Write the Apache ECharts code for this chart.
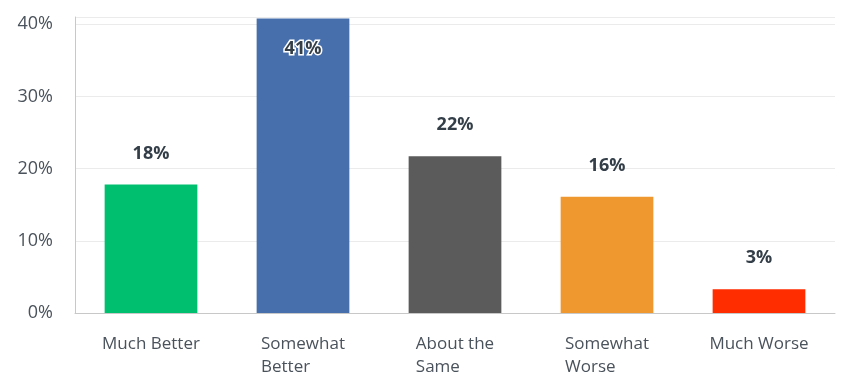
<!DOCTYPE html>
<html><head><meta charset="utf-8">
<script src="https://cdn.jsdelivr.net/npm/echarts@6/dist/echarts.min.js"></script>
<style>html,body{margin:0;padding:0;background:#fff}#c{width:849px;height:379px}</style>
</head><body><div id="c"></div>
<script>
const categories = ['Much Better', 'Somewhat\nBetter', 'About the\nSame', 'Somewhat\nWorse', 'Much Worse'];
const values = [17.8, 40.8, 21.7, 16.1, 3.3];
const valueLabels = ['18%', '41%', '22%', '16%', '3%'];
const colors = ['#00bf6f', '#476fab', '#5b5b5b', '#f09830', '#ff2d00'];
const yTicks = [0, 10, 20, 30, 40];

const font = '"Open Sans", "Noto Sans", sans-serif';
const chart = echarts.init(document.getElementById('c'));
chart.setOption({
  animation: false,
  grid: { left: 75, right: 14, top: 17, bottom: 66 },
  xAxis: {
    type: 'category',
    data: categories,
    axisLine: { lineStyle: { color: '#c8c8c8', width: 1 } },
    axisTick: { show: false },
    axisLabel: {
      margin: 20,
      interval: 0,
      color: '#4a525b',
      fontFamily: font,
      fontSize: 17,
      lineHeight: 23,
      formatter: v => v.split('\n').map(s => '{a|' + s + '}').join('\n'),
      rich: { a: { align: 'left', fontSize: 17, lineHeight: 23, fontFamily: font, color: '#4a525b' } }
    }
  },
  yAxis: {
    type: 'value',
    min: 0, max: 41, interval: 10,
    axisLine: { show: true, lineStyle: { color: '#c8c8c8' } },
    axisTick: { show: false },
    splitLine: { lineStyle: { color: '#ebebeb' } },
    axisLabel: {
      margin: 22,
      color: '#4a525b',
      fontFamily: font,
      fontSize: 18,
      showMaxLabel: false,
      formatter: v => yTicks.includes(v) ? v + '%' : ''
    }
  },
  series: [{
    type: 'bar',
    barWidth: '61%',
    data: values.map((v, i) => ({
      value: v,
      itemStyle: { color: colors[i] },
      label: i === 1 ? {
        position: 'insideTop', distance: 21,
        textBorderColor: '#fff', textBorderWidth: 3
      } : { position: 'top', distance: 22 }
    })),
    label: {
      show: true,
      formatter: p => valueLabels[p.dataIndex],
      color: '#333e48',
      fontFamily: font,
      fontWeight: 'bold',
      fontSize: 18
    }
  }]
});
</script></body></html>
